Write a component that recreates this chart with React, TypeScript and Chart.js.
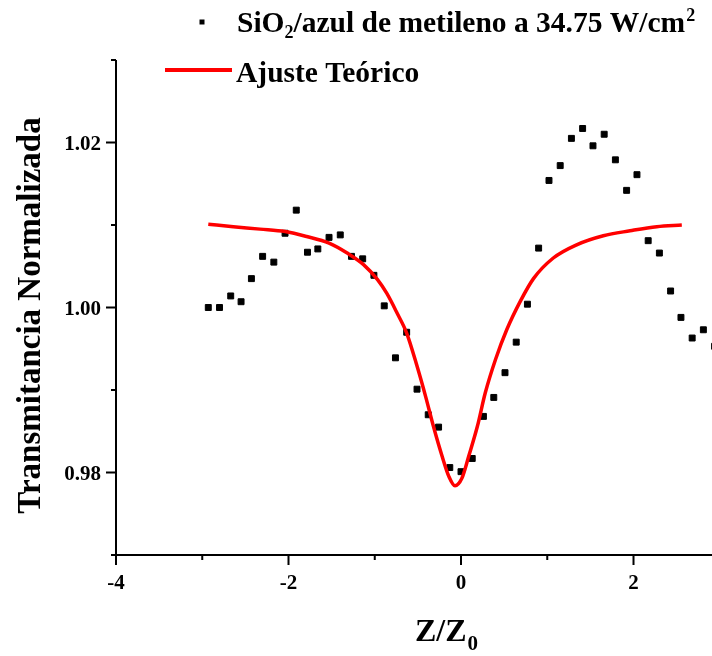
import React, { useEffect, useRef } from "react";
import { Chart, registerables } from "chart.js";

Chart.register(...registerables);

// Measured data (Z/Z0 vs normalized transmittance)
const zData = [
  -2.93, -2.8, -2.67, -2.55, -2.43, -2.3, -2.17, -2.04, -1.91, -1.78, -1.66, -1.53,
  -1.4, -1.27, -1.14, -1.01, -0.89, -0.76, -0.63, -0.51, -0.38, -0.26, -0.13, 0.0,
  0.13, 0.26, 0.38, 0.51, 0.64, 0.77, 0.9, 1.02, 1.15, 1.28, 1.41, 1.53, 1.66, 1.79,
  1.92, 2.04, 2.17, 2.3, 2.43, 2.55, 2.68, 2.81, 2.94,
];
const transData = [
  1.0, 1.0, 1.0014, 1.0007, 1.0035, 1.0062, 1.0055, 1.009, 1.0118, 1.0067, 1.0071, 1.0085,
  1.0088, 1.0062, 1.0059, 1.0039, 1.0002, 0.9939, 0.997, 0.9901, 0.987, 0.9855, 0.9806, 0.9801,
  0.9817, 0.9868, 0.9891, 0.9921, 0.9958, 1.0004, 1.0072, 1.0154, 1.0172, 1.0205, 1.0217, 1.0196,
  1.021, 1.0179, 1.0142, 1.0161, 1.0081, 1.0066, 1.002, 0.9988, 0.9963, 0.9973, 0.9953,
];

// Theoretical fit curve
const fitZ = [
  -2.93, -2.64, -2.33, -2.04, -1.79, -1.53, -1.32, -1.13, -0.97, -0.86, -0.74, -0.63,
  -0.51, -0.41, -0.32, -0.22, -0.14, -0.07, 0.01, 0.09, 0.19, 0.28, 0.4, 0.53, 0.69,
  0.84, 1.07, 1.34, 1.65, 1.96, 2.27, 2.56,
];
const fitT = [
  1.0101, 1.0098, 1.0095, 1.0092, 1.0086, 1.0078, 1.0066, 1.0052, 1.0034, 1.0017, 0.9993, 0.9969,
  0.9929, 0.9892, 0.9856, 0.982, 0.9795, 0.9784, 0.9793, 0.982, 0.9856, 0.9896, 0.9937, 0.9973,
  1.0008, 1.0035, 1.006, 1.0076, 1.0087, 1.0093, 1.0098, 1.01,
];

const xMajorTicks = [-4, -2, 0, 2];
const xMinorTicks = [-3, -1, 1];
const xTickLabels = ["-4", "-2", "0", "2"];
const yMajorTicks = [0.98, 1.0, 1.02];
const yMinorTicks = [0.97, 0.99, 1.01, 1.03];
const yTickLabels = ["0.98", "1.00", "1.02"];

const X_MIN = -4;
const X_MAX = 2.91;
const Y_MIN = 0.97;
const Y_MAX = 1.03;

const SERIF = '"Liberation Serif", "Times New Roman", serif';

const overlayPlugin = {
  id: "overlay",
  afterDraw(chart: any) {
    const ctx: CanvasRenderingContext2D = chart.ctx;
    const xs = chart.scales.x;
    const ys = chart.scales.y;
    const area = chart.chartArea;
    ctx.save();
    ctx.strokeStyle = "#000";
    ctx.fillStyle = "#000";
    ctx.lineWidth = 2;
    // axis lines
    ctx.beginPath();
    ctx.moveTo(area.left, area.top);
    ctx.lineTo(area.left, area.bottom + 1);
    ctx.moveTo(area.left - 4, area.bottom);
    ctx.lineTo(area.right, area.bottom);
    ctx.stroke();

    // x ticks
    ctx.beginPath();
    xMajorTicks.forEach((v) => {
      const px = xs.getPixelForValue(v);
      ctx.moveTo(px, area.bottom);
      ctx.lineTo(px, area.bottom + 10);
    });
    xMinorTicks.forEach((v) => {
      const px = xs.getPixelForValue(v);
      ctx.moveTo(px, area.bottom);
      ctx.lineTo(px, area.bottom + 5);
    });
    // y ticks
    yMajorTicks.forEach((v) => {
      const py = ys.getPixelForValue(v);
      ctx.moveTo(area.left, py);
      ctx.lineTo(area.left - 10, py);
    });
    yMinorTicks.forEach((v) => {
      const py = ys.getPixelForValue(v);
      ctx.moveTo(area.left, py);
      ctx.lineTo(area.left - 5, py);
    });
    ctx.stroke();

    // tick labels
    ctx.font = `bold 21px ${SERIF}`;
    ctx.textAlign = "center";
    ctx.textBaseline = "alphabetic";
    xMajorTicks.forEach((v, i) => {
      const px = xs.getPixelForValue(v);
      ctx.fillText(xTickLabels[i], px, area.bottom + 34);
    });
    ctx.textAlign = "right";
    yMajorTicks.forEach((v, i) => {
      const py = ys.getPixelForValue(v);
      ctx.fillText(yTickLabels[i], area.left - 15, py + 7.5);
    });

    // y title
    ctx.save();
    ctx.translate(40, (area.top + area.bottom) / 2 + 8);
    ctx.rotate(-Math.PI / 2);
    ctx.font = `bold 33px ${SERIF}`;
    ctx.textAlign = "center";
    ctx.textBaseline = "alphabetic";
    ctx.fillText("Transmitancia Normalizada", 0, 0);
    ctx.restore();

    // x title Z/Z0
    ctx.textAlign = "left";
    ctx.font = `bold 32px ${SERIF}`;
    const zx = 415;
    ctx.fillText("Z/Z", zx, 641);
    const w1 = ctx.measureText("Z/Z").width;
    ctx.font = `bold 21px ${SERIF}`;
    ctx.fillText("0", zx + w1 + 1, 650);

    // legend line 1
    ctx.fillRect(199.5, 19.5, 5, 5);
    let lx = 237;
    ctx.font = `bold 29.5px ${SERIF}`;
    ctx.fillText("SiO", lx, 32);
    lx += ctx.measureText("SiO").width;
    ctx.font = `bold 18px ${SERIF}`;
    ctx.fillText("2", lx, 38);
    lx += ctx.measureText("2").width;
    ctx.font = `bold 29.5px ${SERIF}`;
    const mid = "/azul de metileno a 34.75 W/cm";
    ctx.fillText(mid, lx, 32);
    lx += ctx.measureText(mid).width;
    ctx.font = `bold 18px ${SERIF}`;
    ctx.fillText("2", lx + 1, 21);

    // legend line 2
    ctx.strokeStyle = "#ff0000";
    ctx.lineWidth = 4;
    ctx.beginPath();
    ctx.moveTo(165, 70);
    ctx.lineTo(232, 70);
    ctx.stroke();
    ctx.font = `bold 29.5px ${SERIF}`;
    ctx.fillText("Ajuste Teórico", 236, 82);

    ctx.restore();
  },
};

export default function App() {
  const canvasRef = useRef<HTMLCanvasElement | null>(null);

  useEffect(() => {
    if (!canvasRef.current) return;
    const chart = new Chart(canvasRef.current, {
      type: "scatter",
      data: {
        datasets: [
          {
            label: "SiO2/azul de metileno a 34.75 W/cm2",
            data: zData.map((z, i) => ({ x: z, y: transData[i] })),
            pointStyle: "rect",
            pointRadius: 4.2,
            pointBackgroundColor: "#000",
            pointBorderColor: "#000",
            pointBorderWidth: 1,
            showLine: false,
            order: 1,
          },
          {
            label: "Ajuste Teórico",
            data: fitZ.map((z, i) => ({ x: z, y: fitT[i] })),
            showLine: true,
            borderColor: "#ff0000",
            borderWidth: 3.5,
            pointRadius: 0,
            cubicInterpolationMode: "monotone",
            fill: false,
            order: 0,
          } as any,
        ],
      },
      options: {
        animation: false,
        responsive: false,
        layout: { autoPadding: false, padding: { left: 116, right: 0, top: 60, bottom: 101 } },
        plugins: {
          legend: { display: false },
          tooltip: { enabled: false },
          title: { display: false },
        },
        scales: {
          x: {
            type: "linear",
            min: X_MIN,
            max: X_MAX,
            grid: { display: false, drawTicks: false },
            border: { display: false },
            ticks: { display: false },
          },
          y: {
            type: "linear",
            min: Y_MIN,
            max: Y_MAX,
            grid: { display: false, drawTicks: false },
            border: { display: false },
            ticks: { display: false },
          },
        },
      } as any,
      plugins: [overlayPlugin],
    });
    return () => chart.destroy();
  }, []);

  return (
    <div style={{ position: "absolute", left: 0, top: 0, width: 712, height: 656, background: "#fff" }}>
      <canvas ref={canvasRef} width={712} height={656} style={{ width: 712, height: 656, display: "block" }} />
    </div>
  );
}
